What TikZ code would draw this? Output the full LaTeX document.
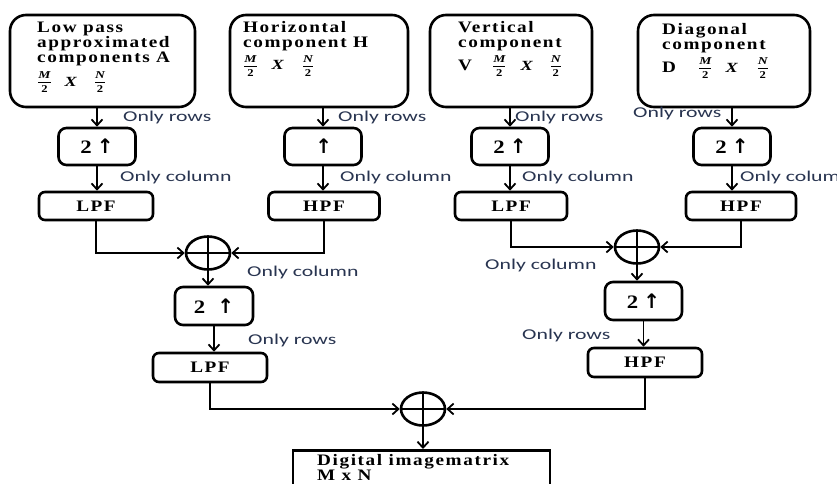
\documentclass[tikz,border=0pt]{standalone}
\usepackage{fontspec}
\usepackage{amsmath}
\setmainfont{Liberation Serif}
\newfontfamily\bsf{Liberation Serif Bold}[FakeStretch=1.2,LetterSpace=10]
\newfontfamily\lblfont{Carlito}[FakeStretch=1.45]
\newfontfamily\bif{Liberation Serif Bold Italic}[FakeStretch=1.3]
\newfontfamily\bup{Liberation Serif Bold}[FakeStretch=1.2]
\newfontfamily\symfont{DejaVu Sans}
\usetikzlibrary{arrows.meta,shapes.geometric}
\definecolor{lblc}{RGB}{40,52,80}
\newcommand{\myfr}[2]{\smash{\raisebox{1pt}{\fontsize{10}{10}\selectfont\ensuremath{\genfrac{}{}{0.8pt}{0}{\hbox{\bif\fontsize{10.5}{11}\selectfont #1}}{\hbox{\bup\fontsize{10.5}{11}\selectfont #2}}}}}}
\newcommand{\bxX}{{\bif\fontsize{14}{14}\selectfont X}}
\newcommand{\myup}{{\symfont\bfseries\fontsize{20}{20}\selectfont ↑}}
\newcommand{\two}{{\bup\fontsize{19}{19}\selectfont 2}}
\begin{document}
\begin{tikzpicture}[x=1pt,y=-1pt,
  bigbox/.style={draw,line width=2.6pt,rounded corners=16pt,inner sep=0pt,minimum height=92pt},
  upbox/.style={draw,line width=2.6pt,rounded corners=8pt,minimum width=77pt,minimum height=37pt,inner sep=0pt},
  filt/.style={draw,line width=2.6pt,rounded corners=6pt,minimum height=28pt,inner sep=0pt,font=\bsf\fontsize{16}{16}\selectfont},
  sumnode/.style={draw,ellipse,line width=2.6pt,minimum width=44pt,minimum height=33pt,inner sep=0pt,
    path picture={\draw[line width=2.4pt] (path picture bounding box.north) -- (path picture bounding box.south)
      (path picture bounding box.west) -- (path picture bounding box.east);}},
  boxtext/.style={anchor=north west,inner sep=0pt,align=left,font=\bsf\fontsize{16}{15}\selectfont},
  lbl/.style={anchor=west,inner sep=0pt,text=lblc,font=\lblfont\fontsize{15}{15}\selectfont},
  arr/.style={line width=1.8pt,-{Straight Barb[length=6pt,width=11pt,line width=1.8pt]}},
  ]
\useasboundingbox (0,0) rectangle (837,483);
\clip (0,0) rectangle (837,483);

% top boxes
\node[bigbox,minimum width=185pt] (A) at (102.5,61) {};
\node[bigbox,minimum width=178pt] (H) at (319,61) {};
\node[bigbox,minimum width=162pt] (V) at (511,61) {};
\node[bigbox,minimum width=172pt] (D) at (724,61) {};

\node[boxtext] (tA) at (37,21.5) {Low pass\\approximated\\components A\\[9pt]\myfr{M}{2}\hspace{13pt}\bxX\hspace{17pt}\myfr{N}{2}};
\node[boxtext] (tH) at (243,21.5) {Horizontal\\component H\\[7pt]\myfr{M}{2}\hspace{14pt}\bxX\hspace{18pt}\myfr{N}{2}};
\node[boxtext] (tV) at (458,21.5) {Vertical\\component\\[7.5pt]V\hspace{20pt}\myfr{M}{2}\hspace{14pt}\bxX\hspace{17pt}\myfr{N}{2}};
\node[boxtext] (tD) at (662,23) {Diagonal\\component\\[8pt]D\hspace{22pt}\myfr{M}{2}\hspace{13pt}\bxX\hspace{19pt}\myfr{N}{2}};

% upsamplers
\node[upbox] (upA) at (97,146.5) {\two\hspace{5pt}\myup};
\node[upbox] (upH) at (323,146.5) {\,\myup};
\node[upbox] (upV) at (510,146.5) {\two\hspace{5pt}\myup};
\node[upbox] (upD) at (732,146.5) {\two\hspace{5pt}\myup};

% filters
\node[filt,minimum width=114pt] (fA) at (96,206) {LPF};
\node[filt,minimum width=111pt] (fH) at (324,206) {HPF};
\node[filt,minimum width=112pt] (fV) at (511,206) {LPF};
\node[filt,minimum width=110pt] (fD) at (741,206) {HPF};

% adders
\node[sumnode] (c1) at (208,253) {};
\node[sumnode] (c2) at (637,247) {};
\node[sumnode] (c3) at (423,409) {};

% second level
\node[upbox,minimum width=78pt,minimum height=38pt] (up2L) at (214,306) {\two\hspace{12pt}\myup};
\node[filt,minimum width=114pt,minimum height=29pt] (f2L) at (210,367.5) {LPF};
\node[upbox,minimum height=38pt] (up2R) at (643.5,301) {\two\hspace{5pt}\myup};
\node[filt,minimum width=114pt,minimum height=29pt] (f2R) at (645,362.5) {HPF};

% output
\node[draw,line width=2.6pt,minimum width=257pt,minimum height=60pt,anchor=north,inner sep=0pt] (out) at (421.5,449) {};
\node[boxtext] (tout) at (317,454.5) {Digital imagematrix\\M x N};

% connectors
\draw[arr] (A.south -| upA.north) -- (upA.north);
\draw[arr] (H.south -| upH.north) -- (upH.north);
\draw[arr] (V.south -| upV.north) -- (upV.north);
\draw[arr] (D.south -| upD.north) -- (upD.north);

\draw[arr] (upA.south) -- (upA.south |- fA.north);
\draw[arr] (upH.south) -- (upH.south |- fH.north);
\draw[arr] (upV.south) -- (upV.south |- fV.north);
\draw[arr] (upD.south) -- (upD.south |- fD.north);

\draw[arr] (fA.south) |- (c1.west);
\draw[arr] (fH.south) |- (c1.east);
\draw[arr] (fV.south) |- (c2.west);
\draw[arr] (fD.south) |- (c2.east);

\draw[arr] (c1.south) -- (c1.south |- up2L.north);
\draw[arr] (up2L.south) -- (up2L.south |- f2L.north);
\draw[arr] (c2.south) -- (c2.south |- up2R.north);
\draw[arr] (up2R.south) -- (up2R.south |- f2R.north);

\draw[arr] (f2L.south) |- (c3.west);
\draw[arr] (f2R.south) |- (c3.east);
\draw[arr] (c3.south) -- (c3.south |- out.north);

% labels
\node[lbl] (l1) at (123,117) {Only rows};
\node[lbl] (l2) at (338,117) {Only rows};
\node[lbl] (l3) at (515,117) {Only rows};
\node[lbl] (l4) at (633,113) {Only rows};
\node[lbl] (l5) at (120,177) {Only column};
\node[lbl] (l6) at (340,177) {Only column};
\node[lbl] (l7) at (522,177) {Only column};
\node[lbl] (l8) at (740,177) {Only column};
\node[lbl] (l9) at (247,272) {Only column};
\node[lbl] (l10) at (485,265) {Only column};
\node[lbl] (l11) at (248,340) {Only rows};
\node[lbl] (l12) at (522,335) {Only rows};
\end{tikzpicture}
\end{document}
